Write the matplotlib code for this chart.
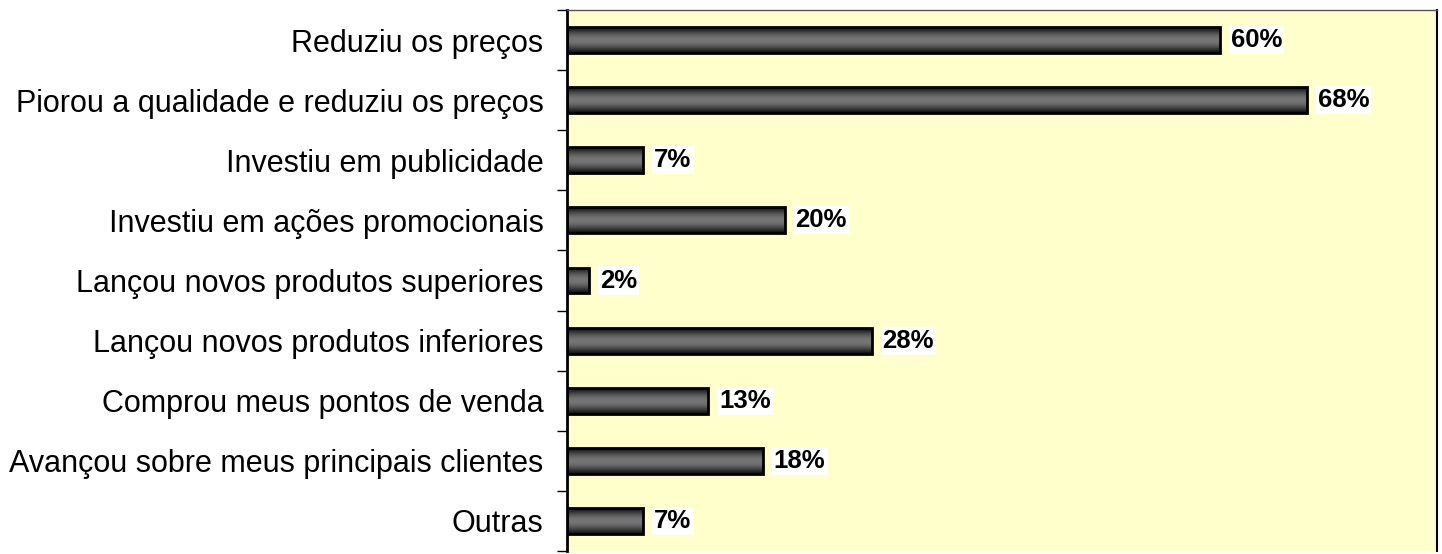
import matplotlib
matplotlib.use("Agg")
import matplotlib.pyplot as plt
import numpy as np
from matplotlib.ticker import FixedLocator, NullFormatter

categories = [
    "Reduziu os preços",
    "Piorou a qualidade e reduziu os preços",
    "Investiu em publicidade",
    "Investiu em ações promocionais",
    "Lançou novos produtos superiores",
    "Lançou novos produtos inferiores",
    "Comprou meus pontos de venda",
    "Avançou sobre meus principais clientes",
    "Outras",
]
values = [60, 68, 7, 20, 2, 28, 13, 18, 7]
labels = ["60%", "68%", "7%", "20%", "2%", "28%", "13%", "18%", "7%"]

plt.rcParams['font.family'] = ['Liberation Sans', 'DejaVu Sans']

fig = plt.figure(figsize=(14.42, 5.54), dpi=100)
ax = fig.add_axes([567/1442, 3/554, (1437-567)/1442, (551-10)/554])
ax.set_facecolor("#FFFFCC")

n = len(categories)
ypos = np.arange(n)
bh = 0.43
bars = ax.barh(ypos, values, height=bh, color="none", edgecolor="black", linewidth=2, zorder=3)

# vertical gradient: dark edges, lighter middle
t = np.linspace(0, 1, 64)
g = 0.06 + 0.40 * np.sin(np.pi * t) ** 1.2
grad = np.dstack([g, g, g])[0][:, None, :]
for b in bars:
    x0, y0 = b.get_x(), b.get_y()
    w, h = b.get_width(), b.get_height()
    im = ax.imshow(grad, extent=[x0, x0 + w, y0 + h, y0], aspect="auto", zorder=2,
                   interpolation="bilinear")
    im.set_clip_path(b)

for y, v, lab in zip(ypos, values, labels):
    ax.annotate(lab, (v, y), xytext=(8, 0), textcoords="offset points",
                ha="left", va="center", fontsize=18.5, fontweight="bold",
                bbox=dict(boxstyle="square,pad=0.08", facecolor="white", edgecolor="none"),
                zorder=4)

ax.set_xlim(0, 80)
ax.set_ylim(n - 0.5, -0.5)
ax.set_yticks(ypos)
ax.set_yticklabels(categories, fontsize=22)
ax.tick_params(axis="y", which="major", length=0, pad=17)
ax.yaxis.set_minor_locator(FixedLocator(np.arange(-0.5, n, 1.0)))
ax.yaxis.set_minor_formatter(NullFormatter())
ax.tick_params(axis="y", which="minor", length=7.5, width=1, color="black")
ax.set_xticks([])
for s in ["left", "right", "top"]:
    ax.spines[s].set_color("black")
ax.spines["left"].set_linewidth(2)
ax.spines["right"].set_linewidth(1.5)
ax.spines["top"].set_linewidth(1)
ax.spines["top"].set_color("#555555")
ax.spines["bottom"].set_visible(False)

fig.savefig("out.png", dpi=100, facecolor="white")
